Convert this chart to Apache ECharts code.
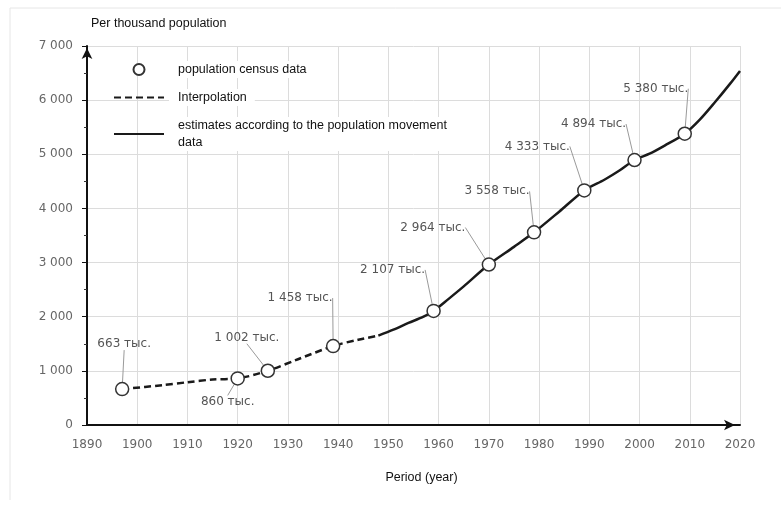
<!DOCTYPE html>
<html><head><meta charset="utf-8">
<script src="https://cdn.jsdelivr.net/npm/echarts@6/dist/echarts.min.js"></script>
<style>html,body{margin:0;padding:0;background:#fff}#c{width:781px;height:505px}</style>
</head><body><div id="c"></div>
<script>
// Census points (thousand people)
const censusYears  = [1897, 1920, 1926, 1939, 1959, 1970, 1979, 1989, 1999, 2009];
const censusValues = [663, 860, 1002, 1458, 2107, 2964, 3558, 4333, 4894, 5380];
// Interpolation (dashed)
const interpYears  = [1897, 1905, 1910, 1915, 1920, 1926, 1932, 1939, 1944, 1948];
const interpValues = [663, 735, 790, 840, 860, 1002, 1215, 1458, 1575, 1650];
// Estimates from population movement data (solid)
const estYears  = [1948, 1951, 1954, 1957, 1959, 1962, 1965, 1970, 1975, 1979, 1984, 1989, 1993, 1996, 1999, 2002, 2005, 2009, 2012, 2015, 2018, 2020];
const estValues = [1650, 1760, 1885, 2000, 2107, 2330, 2560, 2964, 3290, 3558, 3940, 4333, 4530, 4700, 4894, 5010, 5160, 5380, 5640, 5960, 6300, 6540];
const legendNames = ['population census data', 'Interpolation', 'estimates according to the population movement\ndata'];
const unitSuffix = ' тыс.';

// label placement offsets (px) relative to each census point
const labelOffsets = [[2,-45],[-10,23],[-21,-33],[-33,-48],[-41,-41],[-56,-37],[-37,-41],[-47,-44],[-41,-36],[-29,-45]];

const fmt = v => String(v).replace(/\B(?=(\d{3})+(?!\d))/g, ' ');
const pair = (xs, ys) => xs.map((x, i) => [x, ys[i]]);

const chart = echarts.init(document.getElementById('c'));
const legendFont = "'Liberation Sans', Arial, sans-serif";
chart.setOption({
  backgroundColor: '#fff',
  animation: false,
  title: {
    text: 'Per thousand population', left: 86, top: 12,
    textStyle: { fontFamily: legendFont, fontSize: 12.5, fontWeight: 'normal', color: '#111' }
  },
  graphic: [
    { type: 'line', shape: { x1: 10, y1: 8, x2: 781, y2: 8 }, style: { stroke: '#e6e6e6', lineWidth: 1 }, silent: true },
    { type: 'line', shape: { x1: 10, y1: 8, x2: 10, y2: 500 }, style: { stroke: '#e6e6e6', lineWidth: 1 }, silent: true }
  ],
  grid: { left: 87, right: 41, top: 46, bottom: 80 },
  legend: {
    orient: 'vertical', left: 108, top: 56, itemGap: 11,
    itemWidth: 50, itemHeight: 11,
    data: [
      { name: legendNames[0] },
      { name: legendNames[1], itemStyle: { opacity: 0 } },
      { name: legendNames[2], itemStyle: { opacity: 0 } }
    ],
    textStyle: {
      fontFamily: legendFont, fontSize: 12.5, color: '#111', lineHeight: 17,
      backgroundColor: '#fff', padding: [0, 8, 0, 9]
    }
  },
  xAxis: {
    type: 'value', min: 1890, max: 2020, interval: 10,
    name: 'Period (year)', nameLocation: 'middle', nameGap: 46,
    nameTextStyle: { fontFamily: legendFont, fontSize: 12.5, color: '#111', padding: [0, 0, 0, 16] },
    axisLine: { onZero: false, lineStyle: { color: '#111', width: 2 }, symbol: ['none', 'arrow'], symbolSize: [8, 11], symbolOffset: [0, -5] },
    axisTick: { show: false },
    axisLabel: { margin: 14, fontFamily: "'DejaVu Sans', sans-serif", fontSize: 12, color: '#666', formatter: v => String(v) },
    splitLine: { show: true, lineStyle: { color: '#dcdcdc', width: 1 } }
  },
  yAxis: {
    type: 'value', min: 0, max: 7000, interval: 1000,
    axisLine: { show: true, lineStyle: { color: '#111', width: 2 }, symbol: ['none', 'arrow'], symbolSize: [8, 11], symbolOffset: [0, -2] },
    axisTick: { show: true, length: 5, lineStyle: { color: '#111', width: 1 } },
    minorTick: { show: true, splitNumber: 2, length: 3, lineStyle: { color: '#333' } },
    axisLabel: { margin: 14, fontFamily: "'DejaVu Sans', sans-serif", fontSize: 12, color: '#666', formatter: v => fmt(v) },
    splitLine: { show: true, lineStyle: { color: '#dcdcdc', width: 1 } }
  },
  series: [
    {
      name: legendNames[1], type: 'line', data: pair(interpYears, interpValues),
      symbol: 'none', smooth: 0.3, z: 3,
      lineStyle: { color: '#1a1a1a', width: 2.5, type: [7, 4] },
      itemStyle: { color: '#1a1a1a' }
    },
    {
      name: legendNames[2], type: 'line', data: pair(estYears, estValues),
      symbol: 'none', smooth: 0.3, z: 3,
      lineStyle: { color: '#1a1a1a', width: 2.5 },
      itemStyle: { color: '#1a1a1a' }
    },
    {
      name: legendNames[0], type: 'scatter', data: pair(censusYears, censusValues),
      symbol: 'circle', symbolSize: 13, z: 5,
      itemStyle: { color: '#fff', borderColor: '#333', borderWidth: 1.5, opacity: 1 },
      label: {
        show: true, position: 'inside',
        formatter: p => fmt(censusValues[p.dataIndex]) + unitSuffix,
        fontFamily: "'DejaVu Sans', sans-serif", fontSize: 12, color: '#555',
        textBorderWidth: 0
      },
      labelLine: { show: true, lineStyle: { color: '#9a9a9a', width: 1 } },
      labelLayout: p => ({ dx: labelOffsets[p.dataIndex][0], dy: labelOffsets[p.dataIndex][1] })
    }
  ]
});
</script>
</body></html>
